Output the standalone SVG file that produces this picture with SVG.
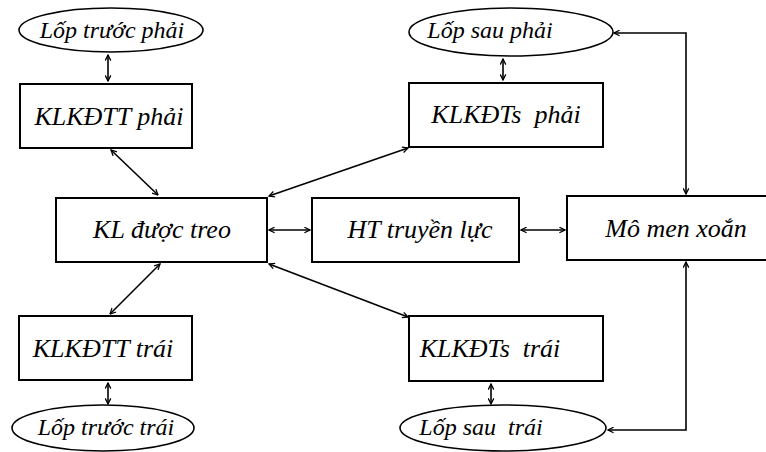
<svg xmlns="http://www.w3.org/2000/svg" width="766" height="452" viewBox="0 0 766 452">
<style>
.box{fill:#fff;stroke:#000;stroke-width:2}
.ell{fill:#fff;stroke:#000;stroke-width:1.6}
.t{font-family:"Liberation Serif","Times New Roman",serif;font-style:italic;font-size:26px;fill:#000;text-anchor:middle}
.te{font-family:"Liberation Serif","Times New Roman",serif;font-style:italic;font-size:24px;fill:#000;text-anchor:middle}
.c{fill:none;stroke:#000;stroke-width:1.6}
</style>
<defs>
<marker id="a" viewBox="0 0 10 10" refX="9" refY="5" markerWidth="7" markerHeight="7" orient="auto-start-reverse" markerUnits="userSpaceOnUse">
<path d="M1,1 L9,5 L1,9" fill="none" stroke="#000" stroke-width="1.8"/>
</marker>
</defs>
<rect width="766" height="452" fill="#fff"/>
<g id="lop-truoc-phai"><ellipse class="ell" cx="111" cy="30" rx="92" ry="22"/><text class="te" x="112" y="38">Lốp trước phải</text></g>
<g id="klkdtt-phai"><rect class="box" x="20" y="84" width="172" height="64"/><text class="t" x="109" y="125">KLKĐTT phải</text></g>
<g id="lop-sau-phai"><ellipse class="ell" cx="511" cy="32" rx="102" ry="24"/><text class="te" x="490" y="38">Lốp sau phải</text></g>
<g id="klkdts-phai"><rect class="box" x="409" y="83" width="194" height="64"/><text class="t" x="506" y="123" xml:space="preserve">KLKĐTs  phải</text></g>
<g id="kl-duoc-treo"><rect class="box" x="56" y="198" width="211" height="64"/><text class="t" x="162" y="238">KL được treo</text></g>
<g id="ht-truyen-luc"><rect class="box" x="312" y="198" width="207" height="64"/><text class="t" x="420" y="238">HT truyền lực</text></g>
<g id="mo-men-xoan"><rect class="box" x="567" y="196" width="210" height="64"/><text class="t" x="676" y="237">Mô men xoắn</text></g>
<g id="klkdtt-trai"><rect class="box" x="19" y="316" width="173" height="64"/><text class="t" x="103" y="357">KLKĐTT trái</text></g>
<g id="klkdts-trai"><rect class="box" x="409" y="316" width="194" height="65"/><text class="t" x="490" y="357" xml:space="preserve">KLKĐTs  trái</text></g>
<g id="lop-truoc-trai"><ellipse class="ell" cx="103" cy="428" rx="91" ry="23"/><text class="te" x="106" y="435">Lốp trước trái</text></g>
<g id="lop-sau-trai"><ellipse class="ell" cx="503" cy="428" rx="103" ry="23"/><text class="te" x="481" y="435" xml:space="preserve">Lốp sau  trái</text></g>
<g id="connectors">
<line class="c" x1="108" y1="55" x2="108" y2="81" marker-start="url(#a)" marker-end="url(#a)"/>
<line class="c" x1="503" y1="59" x2="503" y2="80" marker-start="url(#a)" marker-end="url(#a)"/>
<line class="c" x1="111" y1="150" x2="158" y2="195" marker-start="url(#a)" marker-end="url(#a)"/>
<line class="c" x1="408" y1="148" x2="269" y2="196" marker-start="url(#a)" marker-end="url(#a)"/>
<line class="c" x1="269" y1="230" x2="310" y2="230" marker-start="url(#a)" marker-end="url(#a)"/>
<line class="c" x1="521" y1="230" x2="565" y2="230" marker-start="url(#a)" marker-end="url(#a)"/>
<line class="c" x1="160" y1="264" x2="110" y2="314" marker-start="url(#a)" marker-end="url(#a)"/>
<line class="c" x1="269" y1="264" x2="408" y2="317" marker-start="url(#a)" marker-end="url(#a)"/>
<line class="c" x1="108" y1="383" x2="108" y2="404" marker-start="url(#a)" marker-end="url(#a)"/>
<line class="c" x1="491" y1="384" x2="491" y2="404" marker-start="url(#a)" marker-end="url(#a)"/>
<polyline class="c" points="614,33 686,33 686,194" marker-start="url(#a)" marker-end="url(#a)"/>
<polyline class="c" points="608,430 686,430 686,262" marker-start="url(#a)" marker-end="url(#a)"/>
</g>
</svg>
